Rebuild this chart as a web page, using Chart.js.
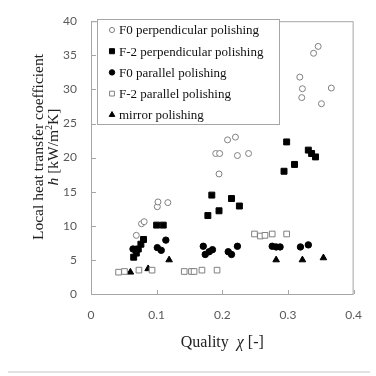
<!DOCTYPE html>
<html>
<head>
<meta charset="utf-8">
<script src="https://cdn.jsdelivr.net/npm/chart.js@4.4.1/dist/chart.umd.min.js"></script>
<style>
  html, body { margin: 0; padding: 0; background: #fff; }
  #wrap { width: 376px; height: 376px; }
</style>
</head>
<body>
<div id="wrap"><canvas id="chart" width="376" height="376"></canvas></div>
<script>
// tick labels
const xTicks = [0, 0.1, 0.2, 0.3, 0.4];
const yTicks = [0, 5, 10, 15, 20, 25, 30, 35, 40];

const seriesNames = [
    "F0 perpendicular polishing",
    "F-2 perpendicular polishing",
    "F0 parallel polishing",
    "F-2 parallel polishing",
    "mirror polishing"
];

// F0 perpendicular polishing (open circles)
const f0PerpX = [0.069, 0.077, 0.081, 0.101, 0.102, 0.117, 0.195, 0.190, 0.196, 0.208, 0.220, 0.223, 0.240, 0.318, 0.322, 0.321, 0.339, 0.346, 0.351, 0.366];
const f0PerpY = [8.6, 10.3, 10.6, 12.8, 13.5, 13.4, 17.6, 20.6, 20.6, 22.6, 23.0, 20.3, 20.6, 31.8, 30.1, 28.8, 35.3, 36.3, 27.9, 30.2];

// F-2 perpendicular polishing (filled squares)
const f2PerpX = [0.065, 0.069, 0.072, 0.076, 0.080, 0.100, 0.110, 0.178, 0.184, 0.195, 0.214, 0.226, 0.294, 0.298, 0.310, 0.331, 0.336, 0.342];
const f2PerpY = [5.4, 6.0, 6.6, 7.3, 8.0, 10.1, 10.1, 11.5, 14.5, 12.2, 14.0, 12.9, 18.0, 22.3, 19.0, 21.1, 20.6, 20.1];

// F0 parallel polishing (filled circles)
const f0ParX = [0.064, 0.101, 0.107, 0.114, 0.171, 0.174, 0.180, 0.185, 0.209, 0.214, 0.223, 0.276, 0.282, 0.288, 0.319, 0.331];
const f0ParY = [6.6, 6.8, 6.4, 7.9, 7.0, 5.8, 6.2, 6.5, 6.2, 5.8, 7.0, 7.0, 6.9, 6.9, 6.9, 7.2];

// F-2 parallel polishing (open squares)
const f2ParX = [0.042, 0.051, 0.073, 0.093, 0.142, 0.153, 0.157, 0.169, 0.192, 0.249, 0.258, 0.265, 0.276, 0.298];
const f2ParY = [3.2, 3.3, 3.5, 3.5, 3.3, 3.3, 3.3, 3.5, 3.5, 8.8, 8.5, 8.6, 8.8, 8.8];

// mirror polishing (triangles)
const mirrorX = [0.060, 0.087, 0.119, 0.282, 0.322, 0.354];
const mirrorY = [3.2, 3.7, 5.0, 5.0, 5.0, 5.3];

function toPoints(xs, ys) {
    return xs.map((x, i) => ({ x: x, y: ys[i] }));
}

const axisGray = "#a6a6a6";
const labelGray = "#595959";
const serif = "'Liberation Serif', 'DejaVu Serif', serif";

// frame, inward ticks, axis titles and legend box
const decorations = {
    id: "decorations",
    beforeDatasetsDraw(chart) {
        const ctx = chart.ctx;
        const a = chart.chartArea;
        ctx.save();
        ctx.strokeStyle = axisGray;
        ctx.lineWidth = 1;
        ctx.strokeRect(a.left + 0.5, a.top + 0.5, a.right - a.left - 1, a.bottom - a.top);
        const xs = chart.scales.x, ys = chart.scales.y;
        ctx.beginPath();
        xTicks.forEach(v => {
            const px = Math.round(xs.getPixelForValue(v)) + 0.5;
            ctx.moveTo(px, a.bottom);
            ctx.lineTo(px, a.bottom - 4);
        });
        yTicks.forEach(v => {
            const py = Math.round(ys.getPixelForValue(v)) + 0.5;
            ctx.moveTo(a.left, py);
            ctx.lineTo(a.left + 5, py);
        });
        ctx.stroke();

        // thin separator line at the bottom of the figure
        ctx.strokeStyle = "#e2e2e2";
        ctx.lineWidth = 2;
        ctx.beginPath();
        ctx.moveTo(8, 372);
        ctx.lineTo(370, 372);
        ctx.stroke();
        ctx.restore();
    },
    afterDraw(chart) {
        const ctx = chart.ctx;
        const a = chart.chartArea;
        ctx.save();
        ctx.fillStyle = "#222";
        ctx.textBaseline = "alphabetic";

        // x title: Quality  χ [-]
        const xParts = [["Quality  ", ""], ["\u03c7", "italic "], [" [-]", ""]];
        drawParts(ctx, xParts, (a.left + a.right) / 2, 347, 16);

        // y title, two rotated lines
        ctx.save();
        ctx.translate(43, 147);
        ctx.rotate(-Math.PI / 2);
        drawParts(ctx, [["Local heat transfer coefficient", ""]], 0, 0, 15.5);
        ctx.restore();
        ctx.save();
        ctx.translate(58, 147);
        ctx.rotate(-Math.PI / 2);
        drawParts(ctx, [["h", "italic "], [" [kW/m", ""], ["2", "sup"], ["K]", ""]], 0, 0, 15.5);
        ctx.restore();

        // legend inside the plot
        const lx = 97, ly = 19, lw = 182, lh = 105;
        ctx.fillStyle = "#fff";
        ctx.fillRect(lx, ly, lw, lh);
        ctx.strokeStyle = axisGray;
        ctx.lineWidth = 1;
        ctx.strokeRect(lx + 0.5, ly + 0.5, lw, lh);
        chart.data.datasets.forEach((ds, i) => {
            const y = 30 + i * 21.2;
            ctx.fillStyle = ds.backgroundColor;
            ctx.strokeStyle = ds.borderColor;
            ctx.lineWidth = 1;
            Chart.helpers.drawPoint(ctx, {
                pointStyle: ds.pointStyle,
                radius: ds.pointRadius * 0.85,
                rotation: 0,
                borderWidth: 1
            }, 112, y);
            ctx.fillStyle = "#111";
            ctx.font = "13px " + serif;
            ctx.textAlign = "left";
            ctx.textBaseline = "middle";
            ctx.fillText(ds.label, 119, y + 1);
        });
        ctx.restore();
    }
};

function drawParts(ctx, parts, cx, baseY, size) {
    let total = 0;
    const widths = parts.map(p => {
        const s = p[1] === "sup" ? size * 0.65 : size;
        ctx.font = (p[1] === "italic " ? "italic " : "") + s + "px " + serif;
        const w = ctx.measureText(p[0]).width;
        total += w;
        return w;
    });
    let x = cx - total / 2;
    ctx.textAlign = "left";
    ctx.textBaseline = "alphabetic";
    parts.forEach((p, i) => {
        const sup = p[1] === "sup";
        const s = sup ? size * 0.65 : size;
        ctx.font = (p[1] === "italic " ? "italic " : "") + s + "px " + serif;
        ctx.fillText(p[0], x, sup ? baseY - size * 0.38 : baseY);
        x += widths[i];
    });
}

const ctx = document.getElementById("chart");
const chart = new Chart(ctx, {
    type: "scatter",
    data: {
        datasets: [
            {
                label: seriesNames[0],
                data: toPoints(f0PerpX, f0PerpY),
                pointStyle: "circle",
                pointRadius: 3,
                backgroundColor: "#ffffff",
                borderColor: "#808080",
                borderWidth: 1
            },
            {
                label: seriesNames[1],
                data: toPoints(f2PerpX, f2PerpY),
                pointStyle: "rect",
                pointRadius: 4.2,
                backgroundColor: "#000000",
                borderColor: "#000000",
                borderWidth: 1
            },
            {
                label: seriesNames[2],
                data: toPoints(f0ParX, f0ParY),
                pointStyle: "circle",
                pointRadius: 3.2,
                backgroundColor: "#000000",
                borderColor: "#000000",
                borderWidth: 1
            },
            {
                label: seriesNames[3],
                data: toPoints(f2ParX, f2ParY),
                pointStyle: "rect",
                pointRadius: 4,
                backgroundColor: "#ffffff",
                borderColor: "#808080",
                borderWidth: 1
            },
            {
                label: seriesNames[4],
                data: toPoints(mirrorX, mirrorY),
                pointStyle: "triangle",
                pointRadius: 3.8,
                backgroundColor: "#000000",
                borderColor: "#000000",
                borderWidth: 1
            }
        ]
    },
    options: {
        responsive: false,
        animation: false,
        devicePixelRatio: 1,
        layout: { padding: { left: 0, right: 18, top: 16, bottom: 0 } },
        plugins: {
            legend: { display: false },
            tooltip: { enabled: false }
        },
        scales: {
            x: {
                type: "linear",
                min: 0,
                max: 0.4,
                afterBuildTicks: s => { s.ticks = xTicks.map(v => ({ value: v })); },
                afterFit: s => { s.height = 82; },
                grid: { display: false, drawTicks: false },
                border: { display: false },
                ticks: {
                    padding: 14,
                    color: labelGray,
                    font: { family: "Lato", size: 12 },
                    callback: v => String(v)
                }
            },
            y: {
                type: "linear",
                min: 0,
                max: 40,
                afterBuildTicks: s => { s.ticks = yTicks.map(v => ({ value: v })); },
                afterFit: s => { s.width = 91; },
                grid: { display: false, drawTicks: false },
                border: { display: false },
                ticks: {
                    padding: 14,
                    color: labelGray,
                    font: { family: "Lato", size: 12 },
                    callback: v => String(v)
                }
            }
        }
    },
    plugins: [decorations]
});
</script>
</body>
</html>
